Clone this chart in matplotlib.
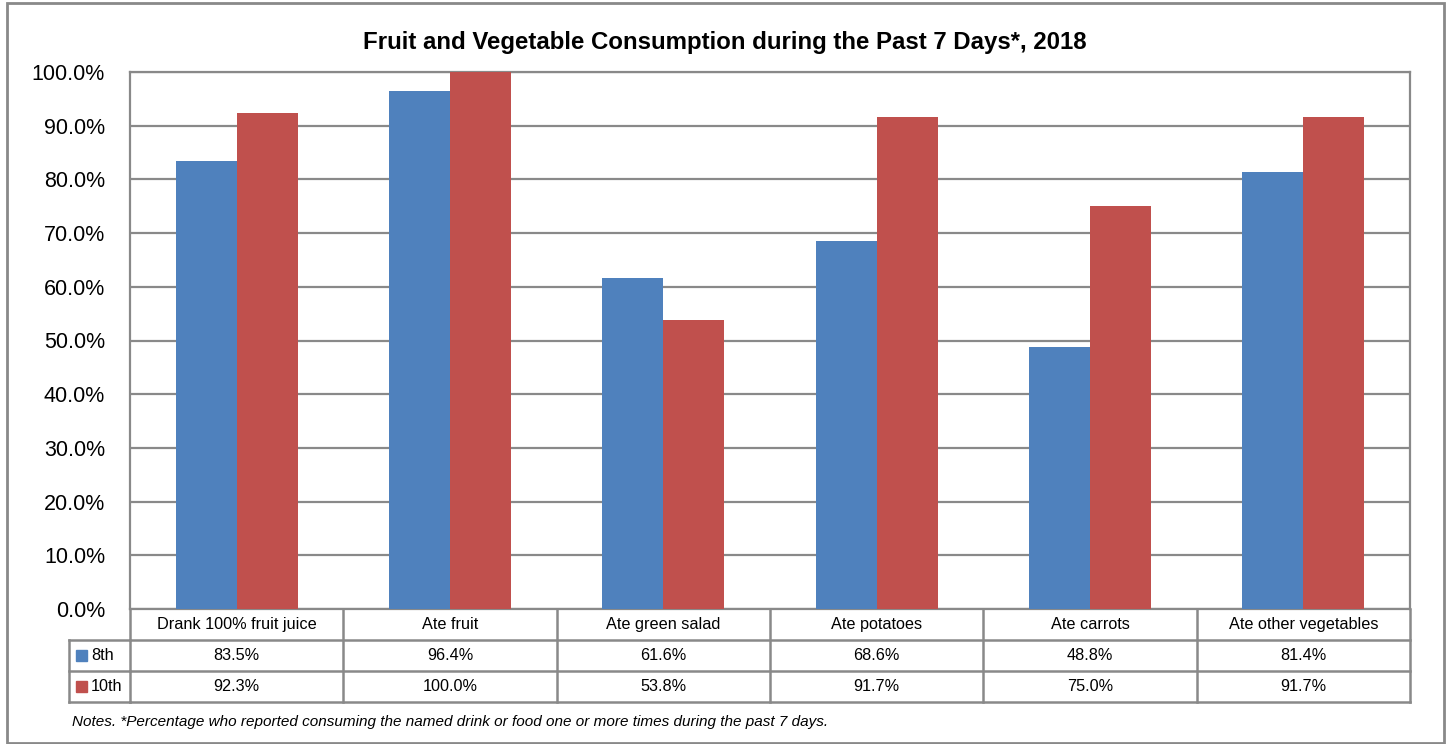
import matplotlib
matplotlib.use("Agg")
import matplotlib.pyplot as plt
from matplotlib.patches import Rectangle
import matplotlib.transforms as mtransforms
from matplotlib import font_manager
import numpy as np

plt.rcParams['font.family'] = ['Liberation Sans', 'DejaVu Sans']

title = "Fruit and Vegetable Consumption during the Past 7 Days*, 2018"
categories = ["Drank 100% fruit juice", "Ate fruit", "Ate green salad",
              "Ate potatoes", "Ate carrots", "Ate other vegetables"]
series_names = ["8th", "10th"]
grade8 = [83.5, 96.4, 61.6, 68.6, 48.8, 81.4]
grade10 = [92.3, 100.0, 53.8, 91.7, 75.0, 91.7]
yticks = [0, 10, 20, 30, 40, 50, 60, 70, 80, 90, 100]
note = "Notes. *Percentage who reported consuming the named drink or food one or more times during the past 7 days."

colors = ["#4F81BD", "#C0504D"]
grid_c = "#898989"

try:
    font_manager.findfont(font_manager.FontProperties(family='Liberation Sans Narrow'),
                          fallback_to_default=False)
    narrow = ['Liberation Sans Narrow', 'Liberation Sans']
    tick_fs, tab_fs = 18.5, 14.3
except Exception:
    narrow = ['Liberation Sans', 'DejaVu Sans']
    tick_fs, tab_fs = 15.5, 11.7

W, H = 1447, 744
fig = plt.figure(figsize=(W / 100, H / 100), dpi=100)
ax = fig.add_axes([130 / W, 1 - 609 / H, (1410 - 130) / W, (609 - 72) / H])

x = np.arange(len(categories))
bw = 0.286
ax.bar(x - bw / 2, grade8, bw, color=colors[0], linewidth=0, zorder=3)
ax.bar(x + bw / 2, grade10, bw, color=colors[1], linewidth=0, zorder=3)

ax.set_xlim(-0.5, len(categories) - 0.5)
ax.set_ylim(0, 100)
ax.set_yticks(yticks)
ax.set_yticklabels([f"{v:.1f}%" for v in yticks], fontsize=tick_fs, family=narrow)
ax.tick_params(axis='y', length=0, pad=18)
ax.set_xticks([])
ax.yaxis.grid(True, color=grid_c, linewidth=1.6, zorder=0)
for s in ax.spines.values():
    s.set_color(grid_c)
    s.set_linewidth(1.6)

fig.text((363 + 1087) / 2 / W, 1 - 43 / H, title, ha='center', va='center',
         fontsize=17.3, fontweight='bold')

trans = mtransforms.blended_transform_factory(ax.transData, ax.transAxes)
rh = 31 / 537.0
n = len(categories)
lw = 1.8
for i in range(1, 4):
    ax.plot([-0.5, n - 0.5], [-i * rh, -i * rh], transform=trans, color=grid_c, lw=lw, clip_on=False)
for k in range(n + 1):
    ax.plot([k - 0.5, k - 0.5], [0, -3 * rh], transform=trans, color=grid_c, lw=lw, clip_on=False)
lab_left = (69 - 130) / 1280 * n - 0.5
for yv in [-rh, -2 * rh, -3 * rh]:
    ax.plot([lab_left, -0.5], [yv, yv], transform=trans, color=grid_c, lw=lw, clip_on=False)
ax.plot([lab_left, lab_left], [-rh, -3 * rh], transform=trans, color=grid_c, lw=lw, clip_on=False)

for k, c in enumerate(categories):
    ax.text(k, -0.5 * rh, c, transform=trans, ha='center', va='center', fontsize=tab_fs, family=narrow)
    ax.text(k, -1.5 * rh, f"{grade8[k]:.1f}%", transform=trans, ha='center', va='center',
            fontsize=tab_fs, family=narrow)
    ax.text(k, -2.5 * rh, f"{grade10[k]:.1f}%", transform=trans, ha='center', va='center',
            fontsize=tab_fs, family=narrow)

for r, (name, col) in enumerate(zip(series_names, colors)):
    yc = 1 - (640 + 31 * r + 15.5) / H
    fig.patches.append(Rectangle((76 / W, yc - 5.5 / H), 11 / W, 11 / H,
                                 transform=fig.transFigure, color=col))
    fig.text(91 / W, yc, name, ha='left', va='center', fontsize=tab_fs, family=narrow)

fig.text(72 / W, 1 - 722 / H, note, ha='left', va='center', fontsize=11, style='italic')

fig.patches.append(Rectangle((7 / W, 1 / H), (1444 - 7) / W, (742 - 2) / H,
                             transform=fig.transFigure, fill=False,
                             edgecolor=grid_c, linewidth=2))

fig.savefig("out.png", dpi=100)
